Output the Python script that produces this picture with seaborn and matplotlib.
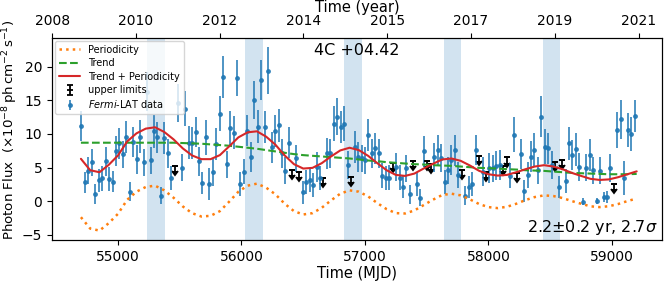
import numpy as np
import pandas as pd
import matplotlib
matplotlib.use("Agg")
import matplotlib.pyplot as plt
import seaborn as sns

# Light curve: 28-day bins starting at MJD 54704 (nan = upper limit bin)
BIN_START = 54704
BIN_WIDTH = 28

flux = [
    11.2, 2.8, 4.5, 5.8, 1.0, 3.1, 3.4, 5.9, 3.3, 2.9,
    7.5, 8.6, 7.0, 9.5, 1.4, 8.8, 6.2, 9.6, 5.8, 16.3,
    6.1, 10.4, 9.5, 0.8, 9.4, 7.1, 3.4, np.nan, 14.6, 5.0,
    13.8, 8.7, 8.7, 10.3, 5.9, 2.7, 9.5, 2.6, 4.3, 8.5,
    13.0, 18.5, 5.5, 10.9, 10.2, 18.4, 2.6, 4.4, 10.5, 6.6,
    15.1, 11.1, 18.1, 11.0, 19.4, 8.0, 10.4, 11.3, 7.1, 4.5,
    8.7, np.nan, 6.4, np.nan, 1.3, 2.8, 3.1, 2.4, 5.1, 3.4,
    np.nan, 7.1, 7.1, 11.5, 12.6, 11.0, 11.5, 5.4, np.nan, 8.1,
    6.6, 6.4, 6.1, 9.9, 7.1, 7.9, 7.1, 3.8, 3.4, 3.5,
    np.nan, 5.1, 3.5, 2.1, 4.9, 1.0, np.nan, 2.5, 0.5, 7.4,
    np.nan, np.nan, 6.5, 7.6, 6.4, 2.8, 4.6, 6.1, 7.6, 3.9,
    np.nan, 0.8, 2.1, 2.6, 7.6, np.nan, 4.4, np.nan, 4.9, 4.9,
    5.3, 5.4, np.nan, np.nan, 3.8, 9.9, np.nan, 7.0, 1.5, 3.9,
    6.6, 7.6, 4.6, 12.6, 8.1, 7.9, 5.4, np.nan, 2.1, np.nan,
    3.0, 8.6, 6.9, 7.7, 5.1, -0.1, 5.0, 6.9, 4.6, 0.0,
    4.5, 0.6, 0.6, 4.9, np.nan, 10.6, 12.2, 3.4, 10.6, 10.0,
    12.7,
]

flux_err = [
    2.3, 1.6, 2.0, 2.0, 1.5, 1.7, 1.9, 2.1, 1.8, 1.6,
    2.2, 2.3, 2.0, 2.4, 1.4, 2.3, 2.1, 2.5, 2.0, 2.9,
    2.0, 2.5, 2.3, 1.3, 2.4, 2.2, 1.8, np.nan, 2.8, 2.0,
    2.6, 2.5, 2.4, 2.3, 2.1, 1.7, 2.6, 2.4, 2.0, 2.4,
    2.6, 3.1, 2.0, 2.6, 2.5, 2.7, 1.8, 1.9, 2.3, 2.2,
    2.8, 2.5, 3.0, 2.4, 3.5, 2.3, 2.4, 2.5, 2.2, 2.0,
    2.3, np.nan, 2.0, np.nan, 1.7, 1.8, 1.8, 1.8, 2.2, 1.8,
    np.nan, 2.3, 2.1, 2.6, 2.7, 2.4, 2.6, 2.1, np.nan, 2.4,
    2.2, 2.0, 2.0, 2.4, 2.2, 2.3, 2.2, 1.9, 1.8, 1.9,
    np.nan, 2.1, 1.9, 1.7, 2.0, 1.4, np.nan, 1.8, 1.3, 2.3,
    np.nan, np.nan, 2.2, 2.3, 2.1, 1.8, 2.0, 2.2, 2.3, 1.9,
    np.nan, 1.4, 1.6, 1.8, 2.2, np.nan, 2.1, np.nan, 2.2, 2.0,
    2.1, 2.2, np.nan, np.nan, 1.9, 2.6, np.nan, 2.2, 1.6, 1.9,
    2.3, 2.5, 2.0, 3.1, 2.6, 2.3, 2.1, np.nan, 1.7, np.nan,
    1.8, 2.5, 2.2, 2.4, 2.1, 0.5, 2.0, 2.4, 2.0, 0.5,
    2.0, 0.8, 0.9, 2.1, np.nan, 2.7, 2.9, 2.5, 2.6, 2.6,
    2.4,
]

ul_bins = [27, 61, 63, 70, 78, 90, 96, 100, 101, 110, 115, 117, 122, 123, 126, 137, 139, 154]
ul_flux = [5.3, 4.7, 4.4, 3.5, 3.6, 5.7, 6.0, 6.0, 5.5, 4.6, 6.7, 4.4, 5.2, 6.5, 4.2, 5.8, 6.1, 2.6]

# model curves read every 75 days from MJD 54700 to 59200
CURVE_START = 54700
CURVE_STEP = 75
periodicity = [
    -2.4, -4.1, -4.4, -3.3, -1.9, 0.2, 1.4, 2.1, 2.3, 1.6,
    0.5, -0.8, -1.8, -2.3, -2.2, -1.5, -0.1, 1.4, 2.3, 2.6,
    2.0, 1.0, -0.4, -1.5, -2.0, -1.8, -1.0, 0.1, 1.1, 1.6,
    1.4, 0.7, -0.3, -1.2, -1.8, -1.85, -1.4, -0.6, 0.2, 0.9,
    1.1, 0.85, 0.25, -0.45, -0.9, -1.05, -0.85, -0.4, 0.15, 0.6,
    0.85, 0.75, 0.45, 0.0, -0.4, -0.78, -0.9, -0.77, -0.44, 0.0,
    0.38,
]
trend = [
    8.7, 8.7, 8.7, 8.7, 8.7, 8.7, 8.7, 8.7, 8.7, 8.7,
    8.7, 8.65, 8.6, 8.55, 8.45, 8.35, 8.25, 8.1, 7.95, 7.8,
    7.6, 7.4, 7.2, 7.0, 6.85, 6.75, 6.65, 6.55, 6.45, 6.35,
    6.2, 6.05, 5.95, 5.8, 5.7, 5.6, 5.5, 5.45, 5.35, 5.3,
    5.25, 5.15, 5.05, 4.95, 4.9, 4.85, 4.75, 4.7, 4.6, 4.55,
    4.5, 4.4, 4.3, 4.2, 4.15, 4.1, 4.05, 4.0, 4.0, 4.0,
    4.05,
]

# high-state windows (MJD)
span_start = [55235, 56032, 56832, 57641, 58441]
span_end = [55377, 56172, 56975, 57776, 58578]

top_labels = ["2008", "2010", "2012", "2014", "2015", "2017", "2019", "2021"]


sns.set_style("ticks", {"axes.edgecolor": "black", "xtick.color": "black",
                        "ytick.color": "black", "text.color": "black",
                        "axes.labelcolor": "black"})
plt.rcParams["font.family"] = ["DejaVu Sans"]
plt.rcParams["xtick.labelsize"] = 10
plt.rcParams["ytick.labelsize"] = 10
plt.rcParams["axes.labelsize"] = 10.5

pal = sns.color_palette("tab10")

fig, ax = plt.subplots(figsize=(6.67, 2.82), dpi=100)
fig.subplots_adjust(left=0.078, right=0.9925, bottom=0.149, top=0.865)

for s, e in zip(span_start, span_end):
    ax.axvspan(s, e, color=pal[0], alpha=0.2, lw=0, zorder=0)

lc = pd.DataFrame({"flux": flux, "err": flux_err})
lc["mjd"] = BIN_START + BIN_WIDTH * lc.index
det = lc.dropna()
ul = pd.DataFrame({"mjd": BIN_START + BIN_WIDTH * np.array(ul_bins), "flux": ul_flux})

ax.errorbar(ul["mjd"], ul["flux"], yerr=0.75, uplims=True, fmt="_", color="k",
            ms=5, mew=1.3, elinewidth=1.3, capsize=2, label="upper limits", zorder=2)
ax.errorbar(det["mjd"], det["flux"], yerr=det["err"], fmt="o", ms=2.5, color=pal[0],
            elinewidth=1.3, alpha=0.85, label=r"$\it{Fermi}$-LAT data", zorder=2)

curves = pd.DataFrame({"Periodicity": periodicity, "Trend": trend})
curves["mjd"] = CURVE_START + CURVE_STEP * curves.index
curves["Trend + Periodicity"] = curves["Trend"] + curves["Periodicity"]

sns.lineplot(data=curves, x="mjd", y="Periodicity", color=pal[1], linestyle=":",
             lw=1.8, label="Periodicity", ax=ax, zorder=3)
sns.lineplot(data=curves, x="mjd", y="Trend", color=pal[2], linestyle="--",
             lw=1.5, label="Trend", ax=ax, zorder=3)
sns.lineplot(data=curves, x="mjd", y="Trend + Periodicity", color=pal[3],
             lw=1.5, label="Trend + Periodicity", ax=ax, zorder=3)

ax.set_xlim(54466, 59405)
ax.set_ylim(-5.8, 24.3)
ax.set_xticks([55000, 56000, 57000, 58000, 59000])
ax.set_yticks([-5, 0, 5, 10, 15, 20])
ax.set_xlabel("Time (MJD)", labelpad=2)
ax.set_ylabel(r"Photon Flux  $(\times10^{-8}\,\mathrm{ph\,cm^{-2}\,s^{-1}})$",
              labelpad=2, fontsize=9.6)
ax.yaxis.set_label_coords(-0.052, 0.545)

ax.text(0.5, 0.975, "4C +04.42", transform=ax.transAxes, ha="center", va="top", fontsize=11.5)
ax.text(0.993, 0.015, r"2.2$\pm$0.2 yr, 2.7$\sigma$", transform=ax.transAxes,
        ha="right", va="bottom", fontsize=11.5)

ax.legend(loc="upper left", fontsize=7, borderaxespad=0.3, handlelength=2.2,
          labelspacing=0.35, frameon=True)

ax_top = ax.twiny()
ax_top.set_xlim(ax.get_xlim())
year_pos = 51544.5 + (np.linspace(2008, 2021, len(top_labels)) - 2000) * 365.25
ax_top.set_xticks(year_pos)
ax_top.set_xticklabels(top_labels)
ax_top.set_xlabel("Time (year)", labelpad=2)

fig.savefig("out.png", dpi=100)
